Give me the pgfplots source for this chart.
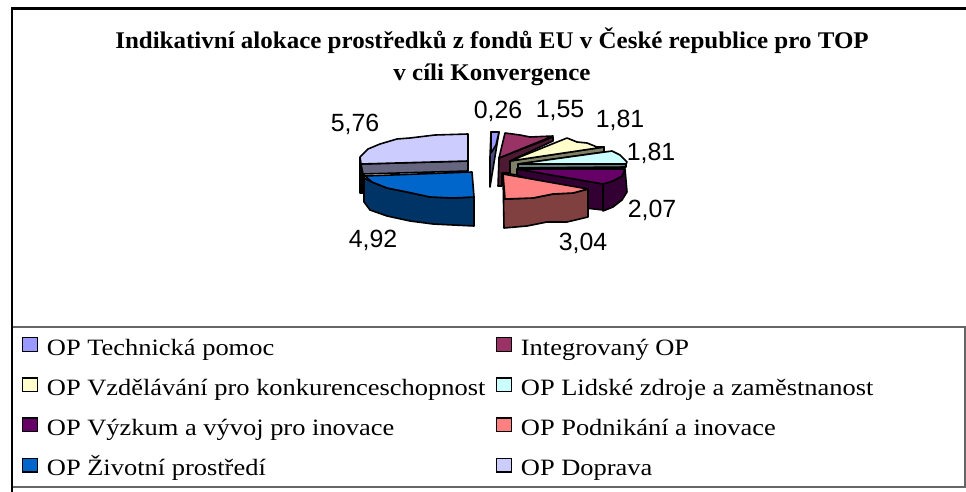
\documentclass[border=0pt]{standalone}
\usepackage{pgfplots}
\usepackage{fontspec}
\setmainfont{Liberation Serif}
\newfontfamily\arialf{Liberation Sans}
\newfontfamily\legf[FakeStretch=1.13]{Liberation Serif}
\newfontfamily\titf[FakeStretch=1.045]{Liberation Serif}
\pgfplotsset{compat=1.18}
\definecolor{c1}{HTML}{9999FF}\definecolor{c1s}{HTML}{4C4C80}
\definecolor{c2}{HTML}{993366}\definecolor{c2s}{HTML}{4D1933}
\definecolor{c3}{HTML}{FFFFCC}\definecolor{c3s}{HTML}{808066}
\definecolor{c4}{HTML}{CCFFFF}\definecolor{c4s}{HTML}{668080}
\definecolor{c5}{HTML}{660066}\definecolor{c5s}{HTML}{330033}
\definecolor{c6}{HTML}{FF8080}\definecolor{c6s}{HTML}{804040}
\definecolor{c7}{HTML}{0066CC}\definecolor{c7s}{HTML}{003366}
\definecolor{c8}{HTML}{CCCCFF}\definecolor{c8s}{HTML}{666680}
\pgfplotstableread{
x y label
355 124 5,76
498 111 0,26
560 111 1,55
620 120 1,81
651 153 1,81
652 210 2,07
583 243 3,04
373 240 4,92
}\labels
\pgfplotsset{
 sw/.style={legend image code/.code={\draw[black,line width=1.4bp,fill=#1] (0.5bp,-1.5bp) rectangle (15bp,12bp);}},
 f/.style={draw=black,line width=1.6bp,fill=#1,line join=round,forget plot}
}
\begin{document}
\begin{tikzpicture}
\useasboundingbox (0,0) rectangle (966bp,492bp);
\begin{axis}[
 scale only axis,width=966bp,height=492bp,
 xmin=0,xmax=966,ymin=0,ymax=492,y dir=reverse,
 axis lines=none,ticks=none,clip=true,
 legend columns=2,
 legend cell align=left,
 legend style={at={(axis cs:22,337)},anchor=north west,draw=none,fill=none,
   font=\legf\fontsize{23.5}{24}\selectfont,inner sep=0pt,outer sep=0pt,
   row sep=16bp,
   /tikz/every odd column/.style={column sep=9bp},
   /tikz/every even column/.style={column sep=10.5bp},
   nodes={inner xsep=0bp,inner ysep=1bp,text height=16bp,text depth=5bp}},
]
\addlegendimage{sw=c1}\addlegendentry{OP Technická pomoc}
\addlegendimage{sw=c2}\addlegendentry{Integrovaný OP}
\addlegendimage{sw=c3}\addlegendentry{OP Vzdělávání pro konkurenceschopnost}
\addlegendimage{sw=c4}\addlegendentry{OP Lidské zdroje a zaměstnanost}
\addlegendimage{sw=c5}\addlegendentry{OP Výzkum a vývoj pro inovace}
\addlegendimage{sw=c6}\addlegendentry{OP Podnikání a inovace}
\addlegendimage{sw=c7}\addlegendentry{OP Životní prostředí}
\addlegendimage{sw=c8}\addlegendentry{OP Doprava}
% frame
\addplot[forget plot,black,line width=2.2bp] coordinates {(12,492)(12,8.5)(966,8.5)};
\addplot[forget plot,gray!80!black,line width=1.2bp] coordinates {(13,327)(965,327)(965,487)(13,487)};
% Doprava
\addplot[f=black] coordinates {(360,157)(360,193)(364,193)(364,170)(360,157)};
\addplot[f=c8s] coordinates {(361,164)(468,161)(468,171)(363,174)} -- cycle;
\addplot[f=c8] coordinates {(468,134)(435,135)(410,138)(397,139)(380,144)(368,149)(360,157)(361,164)(468,161)} -- cycle;
% Technicka
\addplot[f=c1s] coordinates {(491,132)(499,132)(490,187)(490,157)} -- cycle;
\addplot[f=c1] coordinates {(491,132)(499,132)(496,145)(491,153)} -- cycle;
% Integrovany
\addplot[f=c2s] coordinates {(499,158)(553,137)(553,141)(512,160)(510,173)(502,173)(502,186)(498,186)} -- cycle;
\addplot[f=c2] coordinates {(505,133)(520,135)(530,137)(553,136)(499,158)} -- cycle;
% Vzdelavani
\addplot[f=c3s] coordinates {(510,161)(604,147)(604,152)(519,164)(517,175)(510,174)} -- cycle;
\addplot[f=c3] coordinates {(510,161)(567,138)(577,142)(587,143)(597,147)(604,147)} -- cycle;
% Lidske
\addplot[f=c4s] coordinates {(518,164)(626,164)(626,167)(518,168)} -- cycle;
\addplot[f=c4] coordinates {(518,164)(612,151)(620,155)(627,162)(626,164)} -- cycle;
% Vyzkum
\addplot[f=c5s] coordinates {(517,169)(603,184)(603,210)(585,208)(560,190)(517,175)} -- cycle;
\addplot[f=c5s] coordinates {(603,184)(613,181)(622,176)(625,169)(627,192)(622,200)(613,207)(603,211)} -- cycle;
\addplot[f=c5] coordinates {(517,169)(625,169)(622,176)(613,181)(603,184)} -- cycle;
% Podnikani
\addplot[f=c6s] coordinates {(503,174)(505,199)(533,198)(553,194)(573,193)(588,189)(588,217)(567,222)(547,222)(527,226)(504,228)} -- cycle;
\addplot[f=c6] coordinates {(503,174)(588,189)(573,193)(553,194)(533,198)(505,199)} -- cycle;
% Zivotni
\addplot[f=c7s] coordinates {(364,178)(364,202)(370,210)(387,216)(410,221)(433,224)(453,225)(474,226)(474,197)(453,198)(430,197)(407,192)(387,188)(372,182)} -- cycle;
\addplot[f=c7] coordinates {(365,176)(472,172)(474,197)(453,198)(430,197)(407,192)(387,188)(372,182)} -- cycle;
% labels
\addplot[only marks,mark=none,point meta=explicit symbolic,
  nodes near coords,
  nodes near coords style={anchor=center,inner sep=0pt,font=\arialf\fontsize{25}{26}\selectfont,text=black},forget plot]
  table[x=x,y=y,meta=label]{\labels};
% title
\node[align=center,font=\titf\bfseries\fontsize{24}{32}\selectfont,anchor=center] at (axis cs:492,56.5) {Indikativní alokace prostředků z fondů EU v České republice pro TOP\\v cíli Konvergence};
\end{axis}
\end{tikzpicture}
\end{document}
